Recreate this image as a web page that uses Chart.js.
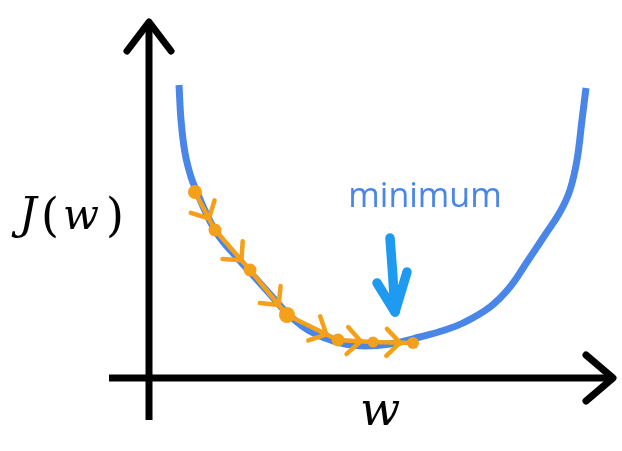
<!DOCTYPE html>
<html>
<head>
<meta charset="utf-8">
<script src="https://cdn.jsdelivr.net/npm/chart.js@4/dist/chart.umd.min.js"></script>
<style>
html,body{margin:0;padding:0;background:#fff;}
canvas{display:block;}
</style>
</head>
<body>
<canvas id="c" width="622" height="451"></canvas>
<script>
// Cost curve J(w)
const W_CURVE = [0.647,0.690,0.776,0.905,1.034,1.250,1.487,1.789,2.177,2.565,2.974,3.362,3.793,4.224,4.655,5.194,5.841,6.379,6.767,7.349,7.780,8.147,8.534,8.858,9.073,9.224,9.332,9.418];
const J_CURVE = [6.584,5.798,5.056,4.517,4.180,3.663,3.213,2.831,2.382,1.933,1.461,1.124,0.899,0.764,0.719,0.764,0.921,1.079,1.236,1.596,2.045,2.607,3.213,3.730,4.225,4.899,5.798,6.517];
// Gradient descent steps
const W_STEPS = [0.991,1.422,2.177,2.974,4.073,4.828,5.690];
const J_STEPS = [4.180,3.326,2.427,1.416,0.854,0.809,0.787];
// Axis ranges and labels
const W_RANGE = [0, 10];
const J_RANGE = [0, 8];
const X_LABEL = 'w';
const Y_LABEL = ['J', '(', 'w', ')'];
const NOTE_TEXT = 'minimum';

const BLUE = '#4A86E8';
const ORANGE = '#F5A01A';
const ARROW_BLUE = '#1E9BF0';

const curveData = W_CURVE.map((w, i) => ({x: w, y: J_CURVE[i]}));
const stepData = W_STEPS.map((w, i) => ({x: w, y: J_STEPS[i]}));

function line(ctx, pts) {
  ctx.beginPath();
  ctx.moveTo(pts[0][0], pts[0][1]);
  for (let i = 1; i < pts.length; i++) ctx.lineTo(pts[i][0], pts[i][1]);
  ctx.stroke();
}

const axesPlugin = {
  id: 'axesPlugin',
  beforeDatasetsDraw(chart) {
    const ctx = chart.ctx, xs = chart.scales.x, ys = chart.scales.y;
    const x0 = xs.getPixelForValue(0), y0 = ys.getPixelForValue(0);
    const xEnd = xs.getPixelForValue(W_RANGE[1]), yEnd = ys.getPixelForValue(J_RANGE[1]);
    ctx.save();
    ctx.strokeStyle = '#000';
    ctx.lineWidth = 7;
    ctx.lineCap = 'butt';
    line(ctx, [[x0 - 40, y0], [xEnd - 2, y0]]);
    line(ctx, [[x0, y0 + 42], [x0, yEnd + 2]]);
    ctx.lineCap = 'round';
    ctx.lineJoin = 'round';
    line(ctx, [[xEnd - 27, y0 - 23], [xEnd, y0], [xEnd - 27, y0 + 23]]);
    line(ctx, [[x0 - 22, yEnd + 29], [x0, yEnd], [x0 + 22, yEnd + 29]]);
    ctx.restore();
  },
  afterDatasetsDraw(chart) {
    const ctx = chart.ctx, xs = chart.scales.x, ys = chart.scales.y;
    ctx.save();
    const pts = chart.getDatasetMeta(0).data;
    ctx.strokeStyle = ORANGE;
    ctx.lineWidth = 4.5;
    ctx.lineCap = 'round';
    ctx.lineJoin = 'round';
    for (let i = 0; i < pts.length - 1; i++) {
      const a = pts[i], b = pts[i + 1];
      const dx = b.x - a.x, dy = b.y - a.y;
      const len = Math.hypot(dx, dy);
      const ux = dx / len, uy = dy / len;
      const off = Math.min(13, len * 0.35);
      const vx = b.x - ux * off, vy = b.y - uy * off;
      const back = Math.atan2(-uy, -ux);
      const L = 19;
      const a1 = back + Math.PI / 4, a2 = back - Math.PI / 4;
      line(ctx, [[vx + L * Math.cos(a1), vy + L * Math.sin(a1)], [vx, vy], [vx + L * Math.cos(a2), vy + L * Math.sin(a2)]]);
    }
    const P = (w, j) => [xs.getPixelForValue(w), ys.getPixelForValue(j)];
    ctx.strokeStyle = ARROW_BLUE;
    ctx.lineWidth = 9.5;
    const top = P(5.194, 3.146), tip = P(5.302, 1.483);
    ctx.beginPath();
    ctx.moveTo(top[0], top[1]);
    ctx.quadraticCurveTo(top[0] + 3, (top[1] + tip[1]) / 2, tip[0], tip[1]);
    ctx.stroke();
    line(ctx, [P(4.914, 2.135), tip, P(5.560, 2.382)]);
    ctx.fillStyle = BLUE;
    ctx.font = '34px "Open Sans"';
    ctx.textAlign = 'center';
    ctx.textBaseline = 'alphabetic';
    const np = P(5.948, 3.84);
    ctx.fillText(NOTE_TEXT, np[0], np[1]);
    // y-axis label J(w)
    ctx.fillStyle = '#000';
    ctx.textAlign = 'left';
    const ca = chart.chartArea;
    const base = ys.getPixelForValue(3.4) + 2;
    const lx = ca.left - 136;
    ctx.font = 'italic 44px "DejaVu Serif"';
    ctx.fillText(Y_LABEL[0], lx + 6, base);
    ctx.font = '46px "DejaVu Serif"';
    ctx.fillText(Y_LABEL[1], lx + 28, base + 2);
    ctx.font = 'italic 42px "DejaVu Serif"';
    ctx.fillText(Y_LABEL[2], lx + 50, base);
    ctx.font = '46px "DejaVu Serif"';
    ctx.fillText(Y_LABEL[3], lx + 93, base + 2);
    ctx.font = 'italic 47px "DejaVu Serif"';
    ctx.textAlign = 'center';
    ctx.fillText(X_LABEL, xs.getPixelForValue(4.98), ys.getPixelForValue(0) + 47);
    ctx.restore();
  }
};

new Chart(document.getElementById('c'), {
  type: 'scatter',
  data: {
    datasets: [
      {
        data: stepData,
        showLine: true,
        borderColor: ORANGE,
        backgroundColor: ORANGE,
        borderWidth: 4.5,
        pointRadius: [7, 6.5, 6.5, 8, 6.5, 5.5, 6],
        pointBackgroundColor: ORANGE,
        pointBorderWidth: 0,
        tension: 0,
        order: 0
      },
      {
        data: curveData,
        showLine: true,
        borderColor: BLUE,
        borderWidth: 7,
        borderCapStyle: 'butt',
        pointRadius: 0,
        tension: 0.4,
        order: 1
      }
    ]
  },
  options: {
    responsive: false,
    animation: false,
    devicePixelRatio: 1,
    layout: {padding: {left: 149, right: 9, top: 22, bottom: 73}},
    scales: {
      x: {type: 'linear', min: W_RANGE[0], max: W_RANGE[1], display: false},
      y: {type: 'linear', min: J_RANGE[0], max: J_RANGE[1], display: false}
    },
    plugins: {legend: {display: false}, tooltip: {enabled: false}},
    clip: false
  },
  plugins: [axesPlugin]
});
</script>
</body>
</html>
